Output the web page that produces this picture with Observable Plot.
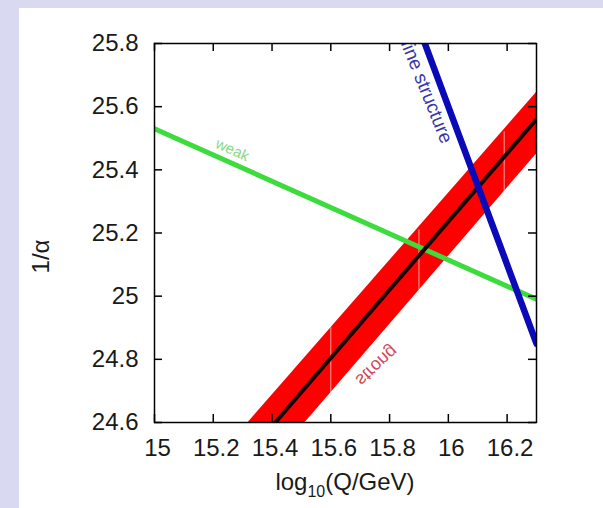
<!DOCTYPE html>
<html><head><meta charset="utf-8">
<script src="https://cdn.jsdelivr.net/npm/d3@7"></script>
<script src="https://cdn.jsdelivr.net/npm/@observablehq/plot@0.6"></script>
<style>
html,body{margin:0;padding:0;background:#d9d9f1;width:603px;height:508px;overflow:hidden}
#panel{position:absolute;left:19px;top:8px;width:584px;height:500px;background:#fff}
</style></head><body><div id="panel"></div>
<script>
// axis ticks
const xTicks = [15, 15.2, 15.4, 15.6, 15.8, 16, 16.2];
const yTicks = [24.6, 24.8, 25, 25.2, 25.4, 25.6, 25.8];
// strong coupling band (red) with central value (black)
const strongX = [15.3, 16.3];
const strongCenter = [24.48, 25.56];
const strongUpper = [24.58, 25.645];
const strongLower = [24.37, 25.45];
// faint seams inside the band
const seamX = [15.6, 15.9, 16.19];
const seamLow = [24.69, 25.02, 25.33];
const seamHigh = [24.90, 25.21, 25.52];
// weak coupling (green)
const weakX = [15, 16.3];
const weakY = [25.53, 24.99];
// fine structure (blue)
const fineX = [15.9, 16.3];
const fineY = [25.85, 24.85];
// curve labels
const labelText = ["fine structure", "weak", "strong"];
const labelX = [15.926, 15.265, 15.756];
const labelY = [25.648, 25.463, 24.78];
const labelRotate = [68, 24, -43];
const labelColor = ["#3838a8", "#8ad88a", "#d04a5a"];
const labelSize = [19, 15, 18];

const W = 584, H = 500, mL = 135, mR = 67, mT = 35, mB = 86;
const fw = W - mL - mR, fh = H - mT - mB, tk = 8;
const idx = a => a.map((_, i) => i);

const plot = Plot.plot({
  width: W, height: H,
  marginLeft: mL, marginRight: mR, marginTop: mT, marginBottom: mB,
  x: {domain: [15, 16.3]},
  y: {domain: [24.6, 25.8]},
  style: {fontFamily: "'Liberation Sans', Arial, sans-serif", fontSize: "24px", background: "white", color: "#1a1a1a"},
  marks: [
    Plot.areaY(idx(strongX), {x: i => strongX[i], y1: i => strongLower[i], y2: i => strongUpper[i], fill: "#ff0000", clip: true}),
    Plot.ruleX(idx(seamX), {x: i => seamX[i], y1: i => seamLow[i], y2: i => seamHigh[i], stroke: "#ffe0e0", strokeWidth: 1, strokeOpacity: 0.7, clip: true}),
    Plot.line(idx(weakX), {x: i => weakX[i], y: i => weakY[i], stroke: "#3bdc3b", strokeWidth: 5, clip: true}),
    Plot.line(idx(strongX), {x: i => strongX[i], y: i => strongCenter[i], stroke: "#1a0000", strokeWidth: 4, clip: true}),
    Plot.line(idx(fineX), {x: i => fineX[i], y: i => fineY[i], stroke: "#0a0ab8", strokeWidth: 6.5, clip: true}),
    Plot.text(idx(labelText), {x: i => labelX[i], y: i => labelY[i], text: i => labelText[i], rotate: i => labelRotate[i], fill: i => labelColor[i], fontSize: i => labelSize[i], lineAnchor: "middle", clip: true}),
    // inward ticks on all four sides
    Plot.ruleX(xTicks, {x: d => d, insetTop: fh - tk, stroke: "black", strokeWidth: 1.5}),
    Plot.ruleX(xTicks, {x: d => d, insetBottom: fh - tk, stroke: "black", strokeWidth: 1.5}),
    Plot.ruleY(yTicks, {y: d => d, insetRight: fw - tk, stroke: "black", strokeWidth: 1.5}),
    Plot.ruleY(yTicks, {y: d => d, insetLeft: fw - tk, stroke: "black", strokeWidth: 1.5}),
    Plot.frame({stroke: "black", strokeWidth: 1.5}),
    Plot.axisX(xTicks, {tickSize: 0, tickPadding: 16, label: null, dx: 3, fontSize: 24, tickFormat: d => String(d)}),
    Plot.axisY(yTicks, {tickSize: 0, tickPadding: 16, label: null, fontSize: 24, tickFormat: d => String(d)})
  ]
});

const svg = d3.select(plot);
// the "strong" label is drawn mirrored in the reference
svg.selectAll("text").filter(function () { return this.textContent === "strong"; }).each(function () {
  const t = this.getAttribute("transform") || "";
  this.setAttribute("transform", t + " scale(1,-1)");
});
// axis titles
const xt = svg.append("text")
  .attr("x", mL + fw / 2).attr("y", H - 18)
  .attr("text-anchor", "middle").attr("font-size", 24).attr("fill", "#1a1a1a");
xt.append("tspan").text("log");
xt.append("tspan").attr("font-size", 16).attr("dy", 7).text("10");
xt.append("tspan").attr("dy", -7).text("(Q/GeV)");
svg.append("text")
  .attr("transform", `translate(21,${mT + fh / 2 + 24}) rotate(-90)`)
  .attr("text-anchor", "middle").attr("dominant-baseline", "central")
  .attr("font-size", 24).attr("fill", "#1a1a1a").text("1/α");

document.getElementById("panel").appendChild(plot);
</script>
</body></html>
